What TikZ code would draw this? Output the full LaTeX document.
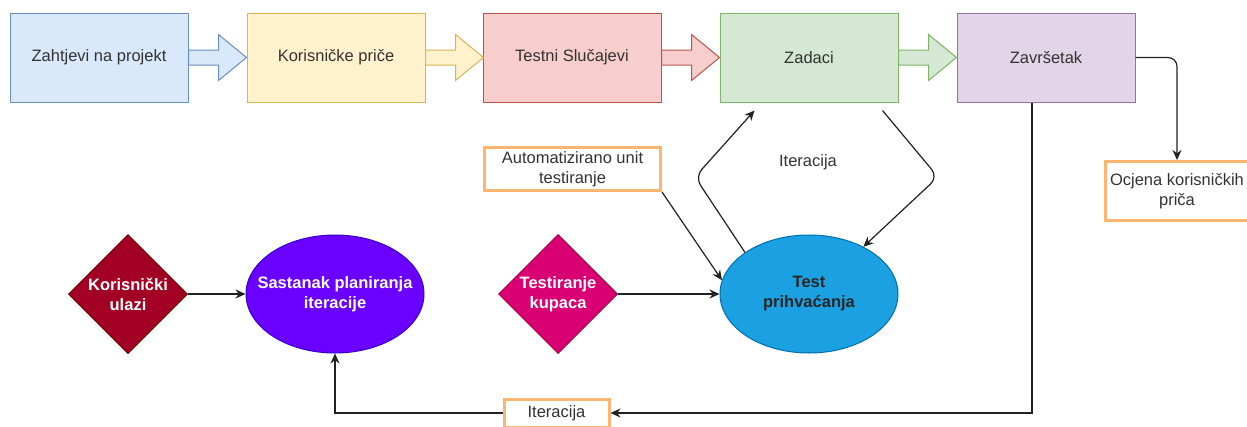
\documentclass[tikz,border=0pt]{standalone}
\usepackage{fontspec}
\setmainfont{Liberation Sans}
\usetikzlibrary{shapes.geometric,arrows.meta,calc}
\definecolor{bfill}{HTML}{DAE8FC}\definecolor{bdraw}{HTML}{6C8EBF}
\definecolor{yfill}{HTML}{FFF2CC}\definecolor{ydraw}{HTML}{D6B656}
\definecolor{rfill}{HTML}{F8CECC}\definecolor{rdraw}{HTML}{B85450}
\definecolor{gfill}{HTML}{D5E8D4}\definecolor{gdraw}{HTML}{82B366}
\definecolor{pfill}{HTML}{E1D5E7}\definecolor{pdraw}{HTML}{9673A6}
\definecolor{orng}{HTML}{FFB570}
\definecolor{txt}{HTML}{333333}
\definecolor{lin}{HTML}{222222}
\definecolor{crim}{HTML}{A20025}\definecolor{crimd}{HTML}{6F0000}
\definecolor{mag}{HTML}{D80073}\definecolor{magd}{HTML}{A50040}
\definecolor{viol}{HTML}{6A00FF}\definecolor{viold}{HTML}{3700CC}
\definecolor{cyan1}{HTML}{1BA1E2}\definecolor{cyan1d}{HTML}{006EAF}
\begin{document}
\begin{tikzpicture}[x=1pt,y=-1pt,
  every node/.style={font=\fontsize{16.5}{20}\selectfont, text=txt, align=center},
  procbox/.style={draw=#1draw, fill=#1fill, line width=1pt, minimum width=178pt, minimum height=89pt, inner sep=0pt},
  notebox/.style={draw=orng, fill=white, line width=3pt, inner sep=0pt},
  dia/.style={diamond, aspect=1, minimum width=119pt, minimum height=119pt, inner sep=0pt, line width=1pt, font=\fontsize{16.5}{20}\selectfont\bfseries, text=white},
  ell/.style={ellipse, minimum width=178pt, minimum height=118pt, inner sep=0pt, line width=1pt},
  elltext/.style={font=\fontsize{16.5}{20}\selectfont\bfseries},
  conn/.style={draw=lin, line width=1.2pt, -{Stealth[length=10pt,width=9pt]}}
]
\clip (0,0) rectangle (1247,426);
\fill[white] (0,0) rectangle (1247,426);

\node[procbox=b] (b1) at (99,57.5) {Zahtjevi na projekt};
\node[procbox=y] (b2) at (336,57.5) {Korisničke priče};
\node[procbox=r] (b3) at (572,57.5) {Testni Slučajevi};
\node[procbox=g] (b4) at (809,57.5) {Zadaci};
\node[procbox=p] (b5) at (1046,57.5) {Završetak};

\foreach \a/\c in {b1/b, b2/y, b3/r, b4/g}{
  \begin{scope}[shift={(\a.east)}]
    \draw[draw=\c draw, fill=\c fill, line width=1pt, line join=miter]
      (0,-7.5) -- (30,-7.5) -- (30,-23) -- (58,0) -- (30,23) -- (30,7.5) -- (0,7.5) -- cycle;
  \end{scope}
}

\node[notebox, minimum width=144pt, minimum height=59pt] (oc) at (1177,191) {Ocjena korisničkih\\priča};
\node[notebox, minimum width=176pt, minimum height=43pt] (au) at (572.5,169) {Automatizirano unit\\testiranje};
\node[notebox, minimum width=105pt, minimum height=28pt] (it) at (556.5,413) {Iteracija};

\node[dia, draw=crimd, fill=crim] (ku) at (128,294) {Korisnički\\ulazi};
\node[dia, draw=magd, fill=mag] (tk) at (558,294) {Testiranje\\kupaca};
\node[ell, draw=viold, fill=viol] (sp) at (335,294) {};
\node[elltext, text=white] (spt) at (sp.center) {Sastanak planiranja\\iteracije};
\node[ell, draw=cyan1d, fill=cyan1] (tp) at (809,294) {};
\node[elltext, text=black!85] (tpt) at (tp.center) {Test\\prihvaćanja};

\node (itl) at (808,162) {Iteracija};

\coordinate (c1) at ([xshift=-14pt]b5.south);
\coordinate (lup) at (695,177);
\coordinate (rdn) at (938,177);

\draw[conn, rounded corners=9pt] (b5.east) -| (oc.north);
\draw[conn] (c1) |- (it.east);
\draw[conn] (it.west) -| (sp.south);
\draw[conn] (ku.east) -- (sp.west);
\draw[conn] (tk.east) -- (tp.west);
\draw[conn] (au.south east) -- (tp.171);
\draw[conn, rounded corners=10pt] (tp.147) -- (lup) -- ([xshift=35pt,yshift=-8pt]b4.south west);
\draw[conn, rounded corners=10pt] ([xshift=-16pt,yshift=-8pt]b4.south east) -- (rdn) -- (tp.41);
\end{tikzpicture}
\end{document}
